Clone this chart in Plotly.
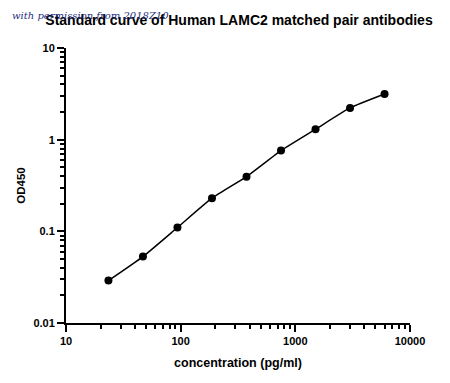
import plotly.graph_objects as go

conc = [23.4375, 46.875, 93.75, 187.5, 375, 750, 1500, 3000, 6000]
od450 = [0.029, 0.053, 0.11, 0.23, 0.395, 0.76, 1.30, 2.22, 3.15]

title_text = "Standard curve of Human LAMC2 matched pair antibodies"
watermark = "with permission from 2018Z10"
x_title = "concentration (pg/ml)"
y_title = "OD450"
x_ticks = [10, 100, 1000, 10000]
x_ticklabels = ["10", "100", "1000", "10000"]
y_ticks = [0.01, 0.1, 1, 10]
y_ticklabels = ["0.01", "0.1", "1", "10"]


def minor_vals(major):
    out = []
    for m in major[:-1]:
        out += [m * k for k in range(2, 10)]
    return out


# page body has an 8px margin, so the figure is sized/offset to compensate
W, H = 442, 375

fig = go.Figure()
fig.add_trace(go.Scatter(
    x=conc, y=od450, mode="lines+markers",
    line=dict(color="black", width=1.5, shape="spline", smoothing=0.5),
    marker=dict(color="black", size=8),
    showlegend=False,
))

font = "Liberation Sans, Arial, sans-serif"
axis_common = dict(
    type="log", showgrid=False, zeroline=False, automargin=False,
    showline=True, linecolor="black", linewidth=2,
    ticks="outside", ticklen=7, tickwidth=2, tickcolor="black",
    tickfont=dict(family=font, size=11, color="black", weight="bold"),
)

fig.update_layout(
    width=W, height=H,
    margin=dict(l=58, r=40, t=40, b=60),
    paper_bgcolor="white", plot_bgcolor="white",
    title=dict(text=title_text, x=(239 - 8) / W, xanchor="center", y=1 - 12 / H, yanchor="middle",
               font=dict(family=font, size=14, color="black", weight="bold")),
    xaxis=dict(axis_common, range=[1, 4], tickvals=x_ticks, ticktext=x_ticklabels,
               minor=dict(tickmode="array", tickvals=minor_vals(x_ticks), ticks="outside",
                          ticklen=4, tickwidth=1.5, tickcolor="black", showgrid=False),
               title=dict(text=x_title, standoff=12,
                          font=dict(family=font, size=12.5, color="black", weight="bold"))),
    yaxis=dict(axis_common, range=[-2, 1], tickvals=y_ticks, ticktext=y_ticklabels,
               minor=dict(tickmode="array", tickvals=minor_vals(y_ticks), ticks="outside",
                          ticklen=4, tickwidth=1.5, tickcolor="black", showgrid=False),
               title=dict(text=y_title, standoff=5,
                          font=dict(family=font, size=11.5, color="black", weight="bold"))),
)

fig.add_annotation(
    text=watermark, xref="paper", yref="paper", x=(10 - 8 - 58) / 344, y=1 + (40 - 8) / 275,
    xanchor="left", yanchor="middle", showarrow=False,
    font=dict(family="DejaVu Serif, serif", size=10, color="#1f2f80", style="italic"),
)

fig.write_html("out.html")
